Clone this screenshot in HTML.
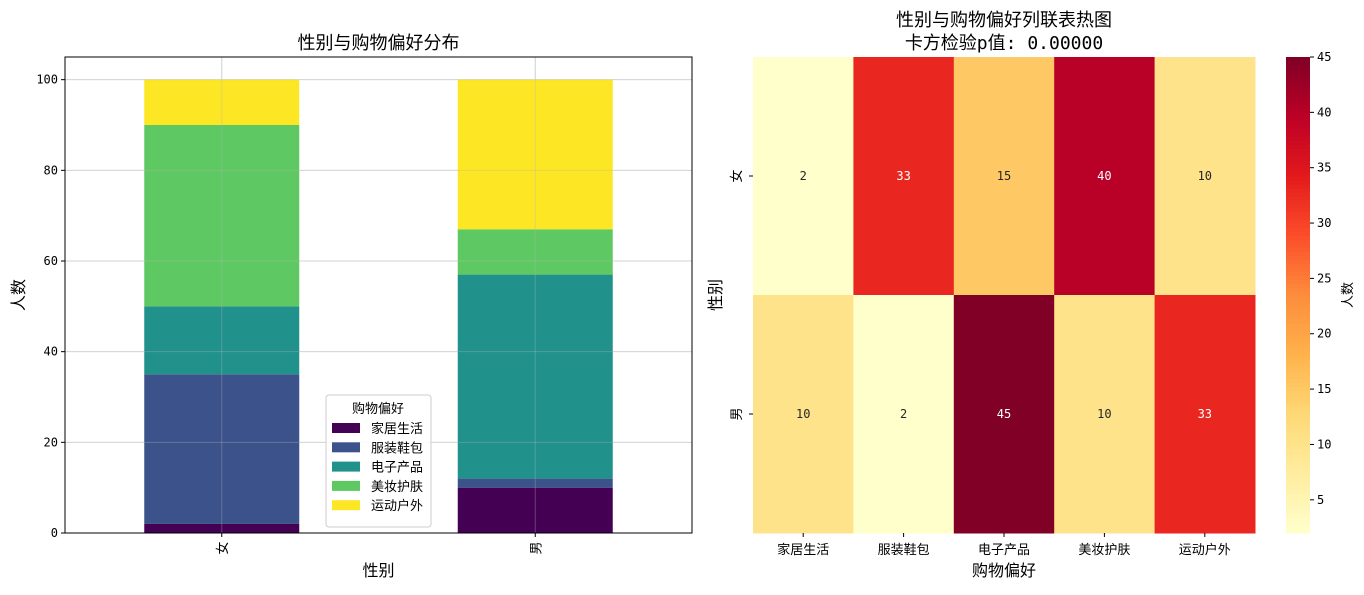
<!DOCTYPE html>
<html><head><meta charset="utf-8"><style>
body{margin:0;background:#fff;}
svg text{font-family:"Liberation Sans","Noto Sans CJK SC",sans-serif;}
.mono{font-family:"DejaVu Sans Mono","Liberation Mono","Noto Sans CJK SC",monospace !important;}
</style></head><body>
<svg id="s" width="1364" height="590" xmlns="http://www.w3.org/2000/svg">
<rect width="1364" height="590" fill="#fff"/>
<g id="left"></g>
<g id="right"></g>
</svg>
<script>
const genders=["女","男"];
const prefs=["家居生活","服装鞋包","电子产品","美妆护肤","运动户外"];
const femaleCounts=[2,33,15,40,10];
const maleCounts=[10,2,45,10,33];
const yTicks=[0,20,40,60,80,100];
const cbTicks=[5,10,15,20,25,30,35,40,45];
const barColors=["#440154","#3b528b","#21918c","#5ec962","#fde725"];
const NS="http://www.w3.org/2000/svg";
function mk(tag,attrs,parent,text){const e=document.createElementNS(NS,tag);for(const k in attrs)e.setAttribute(k,attrs[k]);if(text!==undefined)e.textContent=text;parent.appendChild(e);return e;}
const L=document.getElementById('left'),R=document.getElementById('right');
const ax={x0:65,x1:692,y0:533,y1:57};
const ymax=105;
const ys=v=>ax.y0-(v/ymax)*(ax.y0-ax.y1);
const xs=i=>ax.x0+(ax.x1-ax.x0)*(0.25+0.5*i);
const bw=155;
const data=[femaleCounts,maleCounts];
yTicks.forEach(t=>{
 const g=mk('line',{x1:ax.x0,x2:ax.x1,y1:ys(t),y2:ys(t),stroke:'#e3e3e3','stroke-width':1},L);
 
 const tk=mk('line',{x1:ax.x0-4,x2:ax.x0,y1:ys(t),y2:ys(t),stroke:'#000'},L);
 
 const tl=mk('text',{x:ax.x0-7,y:ys(t)+4,'text-anchor':'end','font-size':12,class:'mono'},L,t);
 
});
genders.forEach((gname,i)=>{
 const gl=mk('line',{x1:xs(i),x2:xs(i),y1:ax.y1,y2:ax.y0,stroke:'#e3e3e3'},L);
 
});
genders.forEach((gname,i)=>{
 let cum=0;
 data[i].forEach((v,j)=>{
  const r=mk('rect',{x:xs(i)-bw/2,y:ys(cum+v),width:bw,height:ys(cum)-ys(cum+v),fill:barColors[j]},L);
  
  cum+=v;
 });
 const tk=mk('line',{x1:xs(i),x2:xs(i),y1:ax.y0,y2:ax.y0+4,stroke:'#000'},L);
 
 const t=mk('text',{x:0,y:0,'font-size':13,'text-anchor':'middle',transform:`translate(${xs(i)+5},${ax.y0+15}) rotate(-90)`},L,gname);
 
});
yTicks.forEach(t=>{const g=mk('line',{x1:ax.x0,x2:ax.x1,y1:ys(t),y2:ys(t),stroke:'rgba(180,180,180,0.35)'},L);});
genders.forEach((gname,i)=>{const g=mk('line',{x1:xs(i),x2:xs(i),y1:ax.y1,y2:ax.y0,stroke:'rgba(180,180,180,0.35)'},L);});
const fr=mk('rect',{x:ax.x0,y:ax.y1,width:ax.x1-ax.x0,height:ax.y0-ax.y1,fill:'none',stroke:'#000','stroke-width':1},L);

let t1=mk('text',{x:(ax.x0+ax.x1)/2,y:49,'text-anchor':'middle','font-size':18},L,'性别与购物偏好分布');

let xl=mk('text',{x:(ax.x0+ax.x1)/2,y:576,'text-anchor':'middle','font-size':16},L,'性别');

let yl=mk('text',{x:0,y:0,'text-anchor':'middle','font-size':16,transform:'translate(24,295) rotate(-90)'},L,'人数');

const lg=mk('g',{},L);
mk('rect',{x:326,y:395,width:105,height:132,rx:3,fill:'rgba(255,255,255,0.85)',stroke:'#ccc'},lg);
mk('text',{x:378,y:413,'text-anchor':'middle','font-size':13},lg,'购物偏好');
prefs.forEach((p,j)=>{
 const y=428+j*19.3;
 const sw=mk('rect',{x:332,y:y-5,width:28,height:10,fill:barColors[j]},lg);
 
 const lt=mk('text',{x:371,y:y+5,'font-size':13},lg,p);
 
});
const hm={x0:753,x1:1255,y0:57,y1:533};
const vmin=2,vmax=45;
const stops=["#ffffcc","#ffeda0","#fed976","#feb24c","#fd8d3c","#fc4e2a","#e31a1c","#bd0026","#800026"];
function hex(c){return [1,3,5].map(i=>parseInt(c.substr(i,2),16));}
function cmap(v){let t=(v-vmin)/(vmax-vmin);t=Math.max(0,Math.min(1,t));const f=t*(stops.length-1);const i=Math.min(stops.length-2,Math.floor(f));const u=f-i;const a=hex(stops[i]),b=hex(stops[i+1]);const c=a.map((x,k)=>Math.round(x+(b[k]-x)*u));return {css:`rgb(${c})`,lum:(0.299*c[0]+0.587*c[1]+0.114*c[2])/255};}
const cw=(hm.x1-hm.x0)/prefs.length,ch=(hm.y1-hm.y0)/genders.length;
data.forEach((row,i)=>row.forEach((v,j)=>{
 const c=cmap(v);
 const r=mk('rect',{x:hm.x0+j*cw,y:hm.y0+i*ch,width:cw+0.5,height:ch+0.5,fill:c.css},R);
 
 const t=mk('text',{x:hm.x0+(j+0.5)*cw,y:hm.y0+(i+0.5)*ch+4,'text-anchor':'middle','font-size':12,class:'mono',fill:c.lum<0.55?'#fff':'#262626'},R,v);
 
}));
prefs.forEach((p,j)=>{
 const x=hm.x0+(j+0.5)*cw;
 const tk=mk('line',{x1:x,x2:x,y1:hm.y1,y2:hm.y1+4,stroke:'#000'},R);
 const t=mk('text',{x:x,y:hm.y1+21,'text-anchor':'middle','font-size':13},R,p);
});
genders.forEach((g,i)=>{
 const y=hm.y0+(i+0.5)*ch;
 const tk=mk('line',{x1:hm.x0-4,x2:hm.x0,y1:y,y2:y,stroke:'#000'},R);
 const t=mk('text',{x:0,y:0,'text-anchor':'middle','font-size':13,transform:`translate(${hm.x0-12},${y}) rotate(-90)`},R,g);
});
let t2=mk('text',{x:(hm.x0+hm.x1)/2,y:26,'text-anchor':'middle','font-size':18},R,'性别与购物偏好列联表热图');

let t3=mk('text',{x:(hm.x0+hm.x1)/2,y:49,'text-anchor':'middle','font-size':18,class:'mono'},R,'卡方检验p值: 0.00000');

let hx=mk('text',{x:(hm.x0+hm.x1)/2,y:576,'text-anchor':'middle','font-size':16},R,'购物偏好');

let hy=mk('text',{x:0,y:0,'text-anchor':'middle','font-size':16,transform:'translate(721,295) rotate(-90)'},R,'性别');

const cb={x0:1286,x1:1310,y0:57,y1:533};
const cby=v=>cb.y1-(v-vmin)/(vmax-vmin)*(cb.y1-cb.y0);
const n=120;
for(let k=0;k<n;k++){
 const v0=vmin+(vmax-vmin)*k/n,v1=vmin+(vmax-vmin)*(k+1)/n;
 const r=mk('rect',{x:cb.x0,y:cby(v1),width:cb.x1-cb.x0,height:cby(v0)-cby(v1)+0.6,fill:cmap((v0+v1)/2).css},R);
 
}
cbTicks.forEach(t=>{
 const tk=mk('line',{x1:cb.x1,x2:cb.x1+4,y1:cby(t),y2:cby(t),stroke:'#000'},R);
 const tl=mk('text',{x:cb.x1+7,y:cby(t)+4,'font-size':12,class:'mono'},R,t);
});
let cl=mk('text',{x:0,y:0,'text-anchor':'middle','font-size':13,transform:'translate(1352,295) rotate(-90)'},R,'人数');

</script>
</body></html>
